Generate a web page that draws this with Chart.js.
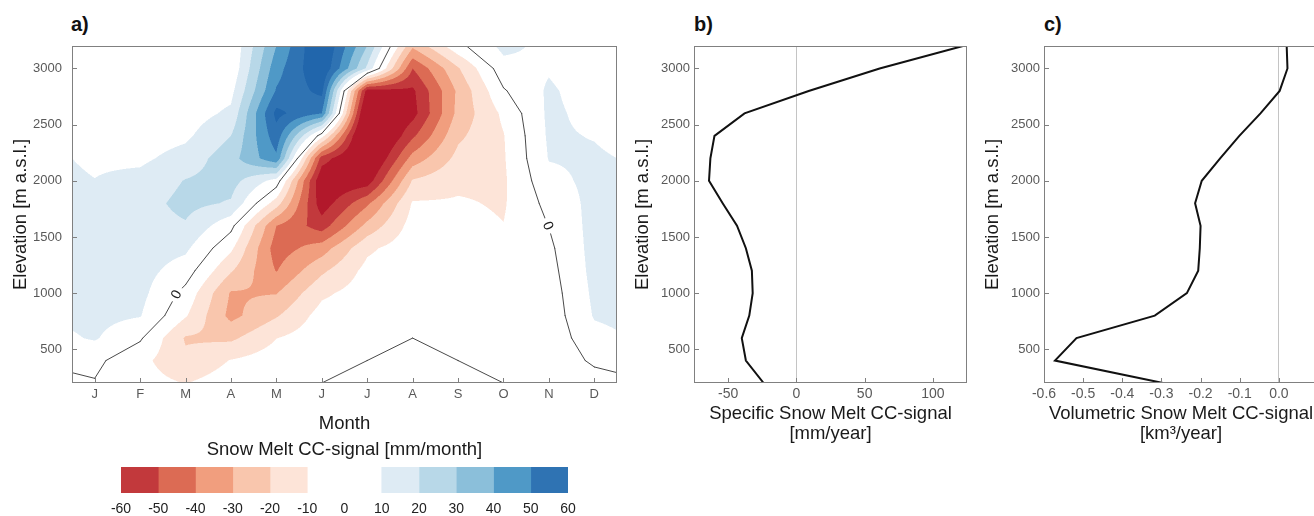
<!DOCTYPE html>
<html>
<head>
<meta charset="utf-8">
<script src="https://cdn.jsdelivr.net/npm/chart.js@4.4.1/dist/chart.umd.min.js"></script>
<style>
  html, body { margin: 0; padding: 0; background: #fff; overflow: hidden; width: 1314px; height: 516px; }
  canvas { position: absolute; }
  .tag { position: absolute; top: 13px; font: bold 20px "Liberation Sans", Arial, sans-serif; color: #111; }
</style>
</head>
<body>

<div class="tag" style="left:71px">a)</div>
<div class="tag" style="left:694px">b)</div>
<div class="tag" style="left:1044px">c)</div>

<canvas id="monthChart" width="630" height="440" style="left:0;top:0"></canvas>
<canvas id="colorbar" width="630" height="78" style="left:0;top:438px"></canvas>
<canvas id="specificChart" width="345" height="450" style="left:630px;top:0"></canvas>
<canvas id="volumeChart" width="360" height="450" style="left:975px;top:0"></canvas>

<script>
/* =========================
   DATA
========================= */

const monthLabels = ["J", "F", "M", "A", "M", "J", "J", "A", "S", "O", "N", "D"];

const elevations = [200, 400, 600, 800, 1000, 1200, 1400, 1600,
                    1800, 2000, 2200, 2400, 2600, 2800, 3000, 3200];

const elevationTicks = [500, 1000, 1500, 2000, 2500, 3000];

// snow melt CC-signal [mm/month], one value per elevation band (200 ... 3200 m)
const signalJan = [-0.6, 2.3, 11, 13, 14, 15, 15, 14, 13, 10.2, 8.5, 5, 3, 2, 1.5, 1];
const signalFeb = [-6, -7, 1.3, 10.6, 13, 14, 15, 16, 16, 13, 8, 5, 3.5, 2.5, 2, 1.5];
const signalMar = [-10.3, -18, -21, -9, -3, 5, 12, 19, 23, 20.5, 14, 8, 5, 3.5, 2.5, 2];
const signalApr = [-5, -9.5, -22, -33, -31, -19, -8, 3, 19, 24, 26, 20, 12, 7, 2, 1];
const signalMay = [-1, -5, -10.2, -21, -30.5, -40.5, -45, -40, -15, 6, 48, 56, 63, 51, 46, 40];
const signalJun = [0, -2, -4, -6, -12, -22, -35, -55, -66, -70, -55, -6, 50, 63, 70, 72];
const signalJul = [1.5, 0, -3, -4, -5, -7, -12, -27, -42, -66, -78, -85, -80, -65, 18, 30];
const signalAug = [2, 1, 0, -1, -2, -3, -4, -6, -9, -19, -36, -52, -64, -62, -50, -28];
const signalSep = [1.5, 0, -1, -2, -3, -4, -5, -7, -9, -12, -17, -22, -27, -28, -21, -3];
const signalOct = [0, -2, -3, -4, -5, -6, -8, -9.8, -11, -11.5, -11, -10.5, -8, -1, 6, 13];
const signalNov = [-8, -8, -7, -6, -5, -3.5, -2, 0.2, 3, 7, 10.5, 11.5, 12, 11.5, 9, 7];
const signalDec = [-5, 2, 7, 10.8, 12, 13, 13.5, 13.5, 13, 12.5, 11.5, 9.5, 7, 5, 3, 2];

const monthlySignal = [signalJan, signalFeb, signalMar, signalApr, signalMay, signalJun,
                       signalJul, signalAug, signalSep, signalOct, signalNov, signalDec];

const levelBreaks = [-60, -50, -40, -30, -20, -10, 10, 20, 30, 40, 50, 60];
const levelColors = ["#b2182b", "#c2393c", "#dc6b54", "#f19e7e", "#f9c6ad", "#fde4d8",
                     "#ffffff",
                     "#deebf4", "#b8d8e8", "#8bbfda", "#4f99c7", "#2f73b3", "#2166ac"];

const colorbarTicks = [-60, -50, -40, -30, -20, -10, 0, 10, 20, 30, 40, 50, 60];

// where the "0" labels sit on the zero contour (month, elevation)
const contourLabelSpots = [[2.77, 995], [10.99, 1601]];

const specificMelt = [-24, -37, -40, -34.5, -32, -32.6, -37, -43.5,
                      -54, -64, -63, -60, -38, 9, 61, 122];
const specificTicks = [-50, 0, 50, 100];

const volumetricMelt = [-0.296, -0.572, -0.517, -0.317, -0.235, -0.206, -0.202, -0.2,
                        -0.214, -0.197, -0.15, -0.101, -0.047, 0.002, 0.022, 0.02];
const volumetricTicks = [-0.6, -0.5, -0.4, -0.3, -0.2, -0.1, 0];

/* =========================
   DEFAULTS
========================= */

Chart.defaults.font.family = '"Liberation Sans", Arial, sans-serif';
Chart.defaults.color = "#595959";

const tickFont = { size: 13 };
const wideTickFont = { size: 14 };
const titleFont = { size: 18.5, lineHeight: 1.1 };
const titleColor = "#1a1a1a";

/* =========================
   GRID HELPERS
========================= */

// month axis wraps around: column 0 is December, column 13 is January
function columnFor(k) {
    return monthlySignal[((k - 1) % 12 + 12) % 12];
}

function signalAt(m, e) {

    const k = Math.min(Math.floor(m), 12);
    const t = m - k;

    let r = (e - elevations[0]) / (elevations[1] - elevations[0]);
    r = Math.max(0, Math.min(elevations.length - 1, r));

    const j = Math.min(Math.floor(r), elevations.length - 2);
    const u = r - j;

    const a = columnFor(k);
    const b = columnFor(k + 1);

    const left = a[j] + (a[j + 1] - a[j]) * u;
    const right = b[j] + (b[j + 1] - b[j]) * u;

    return left + (right - left) * t;
}

function levelIndex(v) {
    let i = 0;
    while (i < levelBreaks.length && v >= levelBreaks[i]) i++;
    return i;
}

const levelRgb = levelColors.map(h => [
    parseInt(h.slice(1, 3), 16),
    parseInt(h.slice(3, 5), 16),
    parseInt(h.slice(5, 7), 16)
]);

function zeroSegments() {

    const segs = [];

    for (let k = 0; k <= 12; k++) {

        const a = columnFor(k);
        const b = columnFor(k + 1);

        for (let j = 0; j < elevations.length - 1; j++) {

            const c = [
                [k, elevations[j], a[j]],
                [k + 1, elevations[j], b[j]],
                [k + 1, elevations[j + 1], b[j + 1]],
                [k, elevations[j + 1], a[j + 1]]
            ];

            const pts = [];

            for (let n = 0; n < 4; n++) {
                const p = c[n];
                const q = c[(n + 1) % 4];
                if ((p[2] > 0) !== (q[2] > 0)) {
                    const s = -p[2] / (q[2] - p[2]);
                    pts.push([p[0] + s * (q[0] - p[0]), p[1] + s * (q[1] - p[1])]);
                }
            }

            if (pts.length === 2) segs.push(pts);
            if (pts.length === 4) {
                segs.push([pts[0], pts[1]]);
                segs.push([pts[2], pts[3]]);
            }
        }
    }

    return segs;
}

/* =========================
   PLUGINS
========================= */

const contourPlugin = {

    id: "contourFill",

    beforeDatasetsDraw(chart) {

        const { ctx, chartArea: area, scales: { x, y } } = chart;

        const w = Math.round(area.right - area.left);
        const h = Math.round(area.bottom - area.top);

        const off = document.createElement("canvas");
        off.width = w;
        off.height = h;
        const octx = off.getContext("2d");
        const img = octx.createImageData(w, h);

        const sub = [0.25, 0.75];
        const mVals = [];
        const eVals = [];

        for (let px = 0; px < w; px++) {
            mVals.push(sub.map(s => x.getValueForPixel(area.left + px + s)));
        }
        for (let py = 0; py < h; py++) {
            eVals.push(sub.map(s => y.getValueForPixel(area.top + py + s)));
        }

        for (let py = 0; py < h; py++) {
            for (let px = 0; px < w; px++) {

                let r = 0, g = 0, b = 0;

                for (const e of eVals[py]) {
                    for (const m of mVals[px]) {
                        const c = levelRgb[levelIndex(signalAt(m, e))];
                        r += c[0]; g += c[1]; b += c[2];
                    }
                }

                const o = (py * w + px) * 4;
                img.data[o] = r / 4;
                img.data[o + 1] = g / 4;
                img.data[o + 2] = b / 4;
                img.data[o + 3] = 255;
            }
        }

        octx.putImageData(img, 0, 0);
        ctx.drawImage(off, area.left, area.top);

        // zero contour
        const segs = zeroSegments().map(sg => sg.map(p => [x.getPixelForValue(p[0]), y.getPixelForValue(p[1])]));

        ctx.save();
        ctx.beginPath();
        ctx.rect(area.left, area.top, area.right - area.left, area.bottom - area.top);
        ctx.clip();

        ctx.strokeStyle = "#4a4a4a";
        ctx.lineWidth = 1;
        ctx.lineCap = "round";
        ctx.beginPath();
        segs.forEach(sg => {
            ctx.moveTo(sg[0][0], sg[0][1]);
            ctx.lineTo(sg[1][0], sg[1][1]);
        });
        ctx.stroke();

        // contour labels
        contourLabelSpots.forEach(spot => {

            const sx = x.getPixelForValue(spot[0]);
            const sy = y.getPixelForValue(spot[1]);

            let best = null;
            let bestD = Infinity;

            segs.forEach(sg => {
                const dx = sg[1][0] - sg[0][0];
                const dy = sg[1][1] - sg[0][1];
                const len2 = dx * dx + dy * dy;
                if (len2 < 1e-6) return;
                let s = ((sx - sg[0][0]) * dx + (sy - sg[0][1]) * dy) / len2;
                s = Math.max(0, Math.min(1, s));
                const qx = sg[0][0] + s * dx;
                const qy = sg[0][1] + s * dy;
                const d = (qx - sx) ** 2 + (qy - sy) ** 2;
                if (d < bestD) {
                    bestD = d;
                    best = { qx, qy, angle: Math.atan2(dy, dx) };
                }
            });

            if (!best) return;

            let angle = best.angle;
            if (angle > Math.PI / 2) angle -= Math.PI;
            if (angle < -Math.PI / 2) angle += Math.PI;

            ctx.save();
            ctx.translate(best.qx, best.qy);
            ctx.rotate(angle);
            ctx.fillStyle = "#ffffff";
            ctx.fillRect(-8, -6, 16, 12);
            ctx.fillStyle = "#222";
            ctx.font = '14px "Liberation Sans", Arial, sans-serif';
            ctx.textAlign = "center";
            ctx.textBaseline = "middle";
            ctx.fillText("0", 0, 0.5);
            ctx.restore();
        });

        ctx.restore();
    }
};

const framePlugin = {

    id: "frameAndTicks",

    afterDatasetsDraw(chart) {

        const { ctx, chartArea: a, scales: { x, y } } = chart;

        ctx.save();
        ctx.strokeStyle = "#808080";
        ctx.lineWidth = 1;

        ctx.strokeRect(a.left + 0.5, a.top + 0.5, a.right - a.left - 1, a.bottom - a.top - 1);

        ctx.beginPath();

        x.ticks.forEach(t => {
            const px = Math.round(x.getPixelForValue(t.value)) + 0.5;
            ctx.moveTo(px, a.bottom);
            ctx.lineTo(px, a.bottom - 5);
        });

        y.ticks.forEach(t => {
            const py = Math.round(y.getPixelForValue(t.value)) + 0.5;
            ctx.moveTo(a.left, py);
            ctx.lineTo(a.left + 5, py);
        });

        ctx.stroke();
        ctx.restore();
    }
};

/* =========================
   SHARED AXIS BUILDERS
========================= */

function elevationAxis(width, titlePad, tickPad) {

    return {
        type: "linear",
        min: 200,
        max: 3200,
        afterBuildTicks: s => { s.ticks = elevationTicks.map(v => ({ value: v })); },
        afterFit: s => { s.width = width; },
        grid: { display: false, drawTicks: false },
        border: { display: false },
        ticks: { font: tickFont, padding: tickPad, autoSkip: false, callback: v => String(v) },
        title: {
            display: true,
            text: "Elevation [m a.s.l.]",
            color: titleColor,
            font: titleFont,
            padding: { top: titlePad, bottom: 0 }
        }
    };
}

function profileAxis(min, max, tickValues, title, format) {

    return {
        type: "linear",
        min,
        max,
        afterBuildTicks: s => { s.ticks = tickValues.map(v => ({ value: v })); },
        afterFit: s => { s.height = 67; },
        grid: {
            drawTicks: false,
            color: c => (c.tick && c.tick.value === 0) ? "#c4c4c4" : "rgba(0,0,0,0)"
        },
        border: { display: false },
        ticks: {
            font: wideTickFont,
            padding: 3,
            maxRotation: 0,
            autoSkip: false,
            callback: format || (v => String(v))
        },
        title: {
            display: true,
            text: title,
            color: titleColor,
            font: titleFont,
            padding: { top: 0, bottom: 6 }
        }
    };
}

/* =========================
   PANEL A - MONTH x ELEVATION
========================= */

new Chart(document.getElementById("monthChart"), {

    type: "scatter",

    data: { datasets: [] },

    options: {
        responsive: false,
        animation: false,
        layout: { padding: { top: 46, right: 13, left: 0, bottom: 0 } },
        plugins: {
            legend: { display: false },
            tooltip: { enabled: false }
        },
        scales: {
            x: {
                type: "linear",
                min: 0.5,
                max: 12.5,
                afterBuildTicks: s => { s.ticks = monthLabels.map((_, i) => ({ value: i + 1 })); },
                afterFit: s => { s.height = 57; },
                grid: { display: false, drawTicks: false },
                border: { display: false },
                ticks: {
                    font: tickFont,
                    padding: 4,
                    maxRotation: 0,
                    autoSkip: false,
                    callback: v => monthLabels[v - 1]
                },
                title: {
                    display: true,
                    text: "Month",
                    color: titleColor,
                    font: titleFont,
                    padding: { top: 0, bottom: 6 }
                }
            },
            y: elevationAxis(72, 11, 10)
        }
    },

    plugins: [contourPlugin, framePlugin]
});

/* =========================
   COLORBAR
========================= */

const colorbarBands = [];

levelBreaks.forEach((lo, i) => {
    const hi = levelBreaks[i + 1];
    if (hi === undefined || lo === -10) return;
    colorbarBands.push({ lo, hi, color: levelColors[i + 1] });
});

new Chart(document.getElementById("colorbar"), {

    type: "bar",

    data: {
        labels: [""],
        datasets: colorbarBands.map(band => ({
            data: [[band.lo, band.hi]],
            backgroundColor: band.color,
            borderWidth: 0,
            barPercentage: 1,
            categoryPercentage: 1,
            grouped: false
        }))
    },

    options: {
        indexAxis: "y",
        responsive: false,
        animation: false,
        layout: { padding: { left: 121, right: 62, top: 0, bottom: 0 } },
        plugins: {
            legend: { display: false },
            tooltip: { enabled: false },
            title: {
                display: true,
                text: "Snow Melt CC-signal [mm/month]",
                color: titleColor,
                font: { size: 18.5, lineHeight: 1.1, weight: "normal" },
                padding: { top: 2, bottom: 6.65 }
            }
        },
        scales: {
            x: {
                type: "linear",
                min: -60,
                max: 60,
                afterBuildTicks: s => { s.ticks = colorbarTicks.map(v => ({ value: v })); },
                afterFit: s => { s.height = 23; },
                grid: { display: false, drawTicks: false },
                border: { display: false },
                ticks: { color: "#222", font: wideTickFont, padding: 8, maxRotation: 0, autoSkip: false }
            },
            y: { display: false }
        }
    }
});

/* =========================
   PANEL B - SPECIFIC
========================= */

new Chart(document.getElementById("specificChart"), {

    type: "scatter",

    data: {
        datasets: [{
            data: elevations.map((e, i) => ({ x: specificMelt[i], y: e })),
            showLine: true,
            borderColor: "#111",
            borderWidth: 2,
            pointRadius: 0,
            tension: 0
        }]
    },

    options: {
        responsive: false,
        animation: false,
        layout: { padding: { top: 46, right: 8, left: 0, bottom: 0 } },
        plugins: {
            legend: { display: false },
            tooltip: { enabled: false }
        },
        scales: {
            x: profileAxis(-75, 125, specificTicks,
                ["Specific Snow Melt CC-signal", "[mm/year]"]),
            y: elevationAxis(64, 3, 4)
        }
    },

    plugins: [framePlugin]
});

/* =========================
   PANEL C - VOLUMETRIC
========================= */

new Chart(document.getElementById("volumeChart"), {

    type: "scatter",

    data: {
        datasets: [{
            data: elevations.map((e, i) => ({ x: volumetricMelt[i], y: e })),
            showLine: true,
            borderColor: "#111",
            borderWidth: 2,
            pointRadius: 0,
            tension: 0
        }]
    },

    options: {
        responsive: false,
        animation: false,
        layout: { padding: { top: 46, right: 17, left: 0, bottom: 0 } },
        plugins: {
            legend: { display: false },
            tooltip: { enabled: false }
        },
        scales: {
            x: profileAxis(-0.6, 0.1, volumetricTicks,
                ["Volumetric Snow Melt CC-signal", "[km\u00b3/year]"],
                v => Number(v).toFixed(1)),
            y: elevationAxis(69, 8, 4)
        }
    },

    plugins: [framePlugin]
});
</script>
</body>
</html>
